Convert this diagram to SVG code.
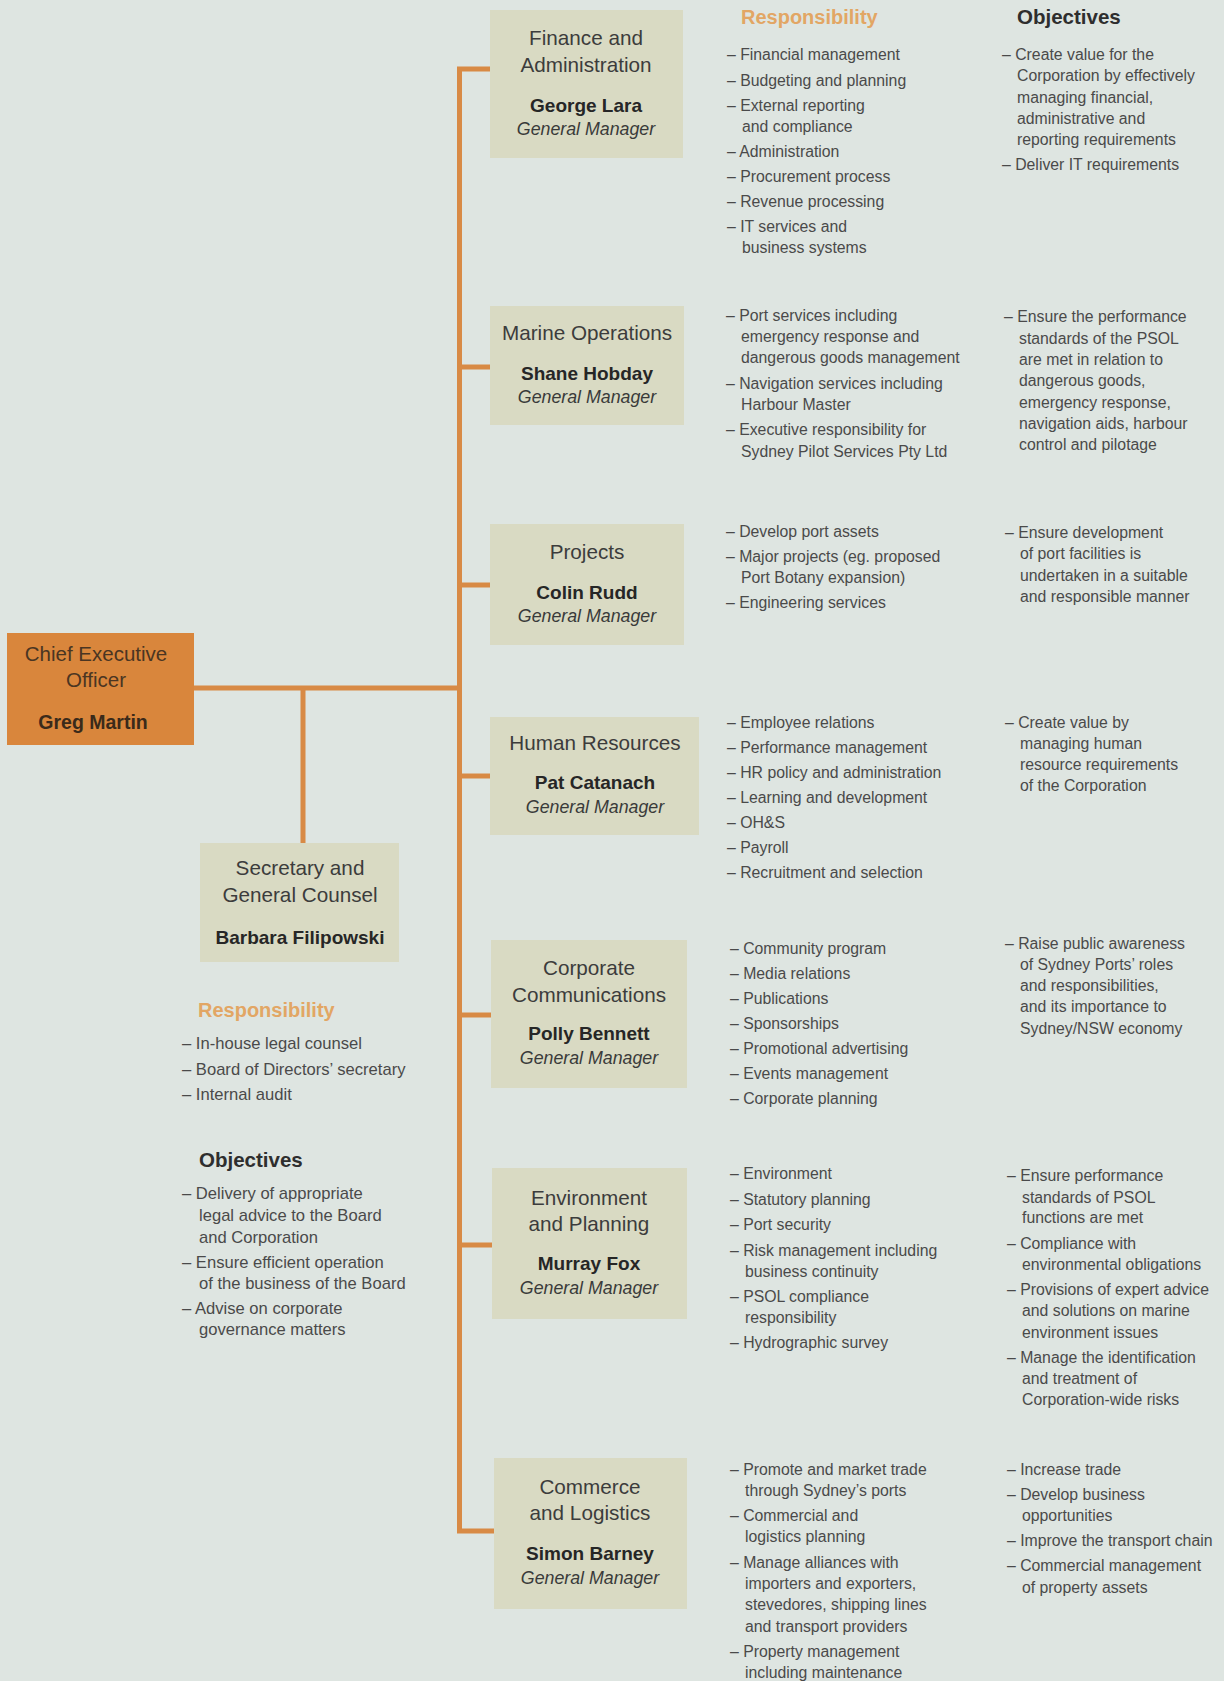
<svg xmlns="http://www.w3.org/2000/svg" width="1224" height="1681" viewBox="0 0 1224 1681">
<style>
.bg{fill:#dee5e1}
.box{fill:#d9dac3}
.ceo{fill:#d9863c}
.ln{stroke:#d88a45;stroke-width:5;fill:none;stroke-linecap:butt}
.t{font-family:"Liberation Sans",Arial,sans-serif;font-size:20.7px;fill:#3c3c3c;text-anchor:middle}
.n{font-family:"Liberation Sans",Arial,sans-serif;font-size:19px;font-weight:bold;fill:#262626;text-anchor:middle}
.g{font-family:"Liberation Sans",Arial,sans-serif;font-size:17.8px;font-style:italic;fill:#3a3a3a;text-anchor:middle}
.ct{font-family:"Liberation Sans",Arial,sans-serif;font-size:20.5px;fill:#4a3522;text-anchor:middle}
.cn{font-family:"Liberation Sans",Arial,sans-serif;font-size:19.5px;font-weight:bold;fill:#3a2a1a;text-anchor:middle}
.hr{font-family:"Liberation Sans",Arial,sans-serif;font-size:20px;font-weight:bold;fill:#e2a664}
.ho{font-family:"Liberation Sans",Arial,sans-serif;font-size:20.5px;font-weight:bold;fill:#2e2e2e}
.b{font-family:"Liberation Sans",Arial,sans-serif;font-size:15.8px;fill:#4a4a4a}
.bl{font-family:"Liberation Sans",Arial,sans-serif;font-size:16.6px;fill:#4a4a4a}
</style>
<rect class="bg" x="0" y="0" width="1224" height="1681"/>

<g id="connectors">
<line class="ln" x1="194" y1="688" x2="462" y2="688"/>
<line class="ln" x1="303" y1="688" x2="303" y2="843"/>
<polyline class="ln" points="490,69 459.5,69 459.5,1531 494,1531"/>
<line class="ln" x1="459.5" y1="367" x2="490" y2="367"/>
<line class="ln" x1="459.5" y1="585" x2="490" y2="585"/>
<line class="ln" x1="459.5" y1="776" x2="490" y2="776"/>
<line class="ln" x1="459.5" y1="1015" x2="491" y2="1015"/>
<line class="ln" x1="459.5" y1="1245" x2="492" y2="1245"/>
</g>

<g id="ceo">
<rect class="ceo" x="7" y="633" width="187" height="112"/>
<text class="ct" x="96" y="661">Chief Executive</text>
<text class="ct" x="96" y="687">Officer</text>
<text class="cn" x="93" y="729">Greg Martin</text>
</g>

<g id="secretary">
<rect class="box" x="200" y="843" width="199" height="119"/>
<text class="t" x="300" y="875">Secretary and</text>
<text class="t" x="300" y="902">General Counsel</text>
<text class="n" x="300" y="944">Barbara Filipowski</text>
</g>

<g id="secretary-details">
<text class="hr" x="198" y="1017">Responsibility</text>
<text class="bl" x="182" y="1049">– In-house legal counsel</text>
<text class="bl" x="182" y="1075">– Board of Directors’ secretary</text>
<text class="bl" x="182" y="1100">– Internal audit</text>
<text class="ho" x="199" y="1167">Objectives</text>
<text class="bl" x="182" y="1199">– Delivery of appropriate</text>
<text class="bl" x="199" y="1221">legal advice to the Board</text>
<text class="bl" x="199" y="1243">and Corporation</text>
<text class="bl" x="182" y="1268">– Ensure efficient operation</text>
<text class="bl" x="199" y="1289">of the business of the Board</text>
<text class="bl" x="182" y="1314">– Advise on corporate</text>
<text class="bl" x="199" y="1335">governance matters</text>
</g>

<g id="headers">
<text class="hr" x="741" y="24">Responsibility</text>
<text class="ho" x="1017" y="24">Objectives</text>
</g>

<g id="finance">
<rect class="box" x="490" y="10" width="193" height="148"/>
<text class="t" x="586" y="45">Finance and</text>
<text class="t" x="586" y="72">Administration</text>
<text class="n" x="586" y="112">George Lara</text>
<text class="g" x="586" y="135">General Manager</text>
</g>
<g id="finance-details">
<text class="b" x="727" y="60">– Financial management</text>
<text class="b" x="727" y="86">– Budgeting and planning</text>
<text class="b" x="727" y="111">– External reporting</text>
<text class="b" x="742" y="132">and compliance</text>
<text class="b" x="727" y="157">– Administration</text>
<text class="b" x="727" y="182">– Procurement process</text>
<text class="b" x="727" y="207">– Revenue processing</text>
<text class="b" x="727" y="232">– IT services and</text>
<text class="b" x="742" y="253">business systems</text>
<text class="b" x="1002" y="60">– Create value for the</text>
<text class="b" x="1017" y="81">Corporation by effectively</text>
<text class="b" x="1017" y="103">managing financial,</text>
<text class="b" x="1017" y="124">administrative and</text>
<text class="b" x="1017" y="145">reporting requirements</text>
<text class="b" x="1002" y="170">– Deliver IT requirements</text>
</g>

<g id="marine">
<rect class="box" x="490" y="306" width="194" height="119"/>
<text class="t" x="587" y="340">Marine Operations</text>
<text class="n" x="587" y="380">Shane Hobday</text>
<text class="g" x="587" y="403">General Manager</text>
</g>
<g id="marine-details">
<text class="b" x="726" y="321">– Port services including</text>
<text class="b" x="741" y="342">emergency response and</text>
<text class="b" x="741" y="363">dangerous goods management</text>
<text class="b" x="726" y="389">– Navigation services including</text>
<text class="b" x="741" y="410">Harbour Master</text>
<text class="b" x="726" y="435">– Executive responsibility for</text>
<text class="b" x="741" y="457">Sydney Pilot Services Pty Ltd</text>
<text class="b" x="1004" y="322">– Ensure the performance</text>
<text class="b" x="1019" y="344">standards of the PSOL</text>
<text class="b" x="1019" y="365">are met in relation to</text>
<text class="b" x="1019" y="386">dangerous goods,</text>
<text class="b" x="1019" y="408">emergency response,</text>
<text class="b" x="1019" y="429">navigation aids, harbour</text>
<text class="b" x="1019" y="450">control and pilotage</text>
</g>

<g id="projects">
<rect class="box" x="490" y="524" width="194" height="121"/>
<text class="t" x="587" y="559">Projects</text>
<text class="n" x="587" y="599">Colin Rudd</text>
<text class="g" x="587" y="622">General Manager</text>
</g>
<g id="projects-details">
<text class="b" x="726" y="537">– Develop port assets</text>
<text class="b" x="726" y="562">– Major projects (eg. proposed</text>
<text class="b" x="741" y="583">Port Botany expansion)</text>
<text class="b" x="726" y="608">– Engineering services</text>
<text class="b" x="1005" y="538">– Ensure development</text>
<text class="b" x="1020" y="559">of port facilities is</text>
<text class="b" x="1020" y="581">undertaken in a suitable</text>
<text class="b" x="1020" y="602">and responsible manner</text>
</g>

<g id="hr">
<rect class="box" x="490" y="717" width="209" height="118"/>
<text class="t" x="595" y="750">Human Resources</text>
<text class="n" x="595" y="789">Pat Catanach</text>
<text class="g" x="595" y="813">General Manager</text>
</g>
<g id="hr-details">
<text class="b" x="727" y="728">– Employee relations</text>
<text class="b" x="727" y="753">– Performance management</text>
<text class="b" x="727" y="778">– HR policy and administration</text>
<text class="b" x="727" y="803">– Learning and development</text>
<text class="b" x="727" y="828">– OH&amp;S</text>
<text class="b" x="727" y="853">– Payroll</text>
<text class="b" x="727" y="878">– Recruitment and selection</text>
<text class="b" x="1005" y="728">– Create value by</text>
<text class="b" x="1020" y="749">managing human</text>
<text class="b" x="1020" y="770">resource requirements</text>
<text class="b" x="1020" y="791">of the Corporation</text>
</g>

<g id="corpcomm">
<rect class="box" x="491" y="940" width="196" height="148"/>
<text class="t" x="589" y="975">Corporate</text>
<text class="t" x="589" y="1002">Communications</text>
<text class="n" x="589" y="1040">Polly Bennett</text>
<text class="g" x="589" y="1064">General Manager</text>
</g>
<g id="corpcomm-details">
<text class="b" x="730" y="954">– Community program</text>
<text class="b" x="730" y="979">– Media relations</text>
<text class="b" x="730" y="1004">– Publications</text>
<text class="b" x="730" y="1029">– Sponsorships</text>
<text class="b" x="730" y="1054">– Promotional advertising</text>
<text class="b" x="730" y="1079">– Events management</text>
<text class="b" x="730" y="1104">– Corporate planning</text>
<text class="b" x="1005" y="949">– Raise public awareness</text>
<text class="b" x="1020" y="970">of Sydney Ports’ roles</text>
<text class="b" x="1020" y="991">and responsibilities,</text>
<text class="b" x="1020" y="1012">and its importance to</text>
<text class="b" x="1020" y="1034">Sydney/NSW economy</text>
</g>

<g id="environment">
<rect class="box" x="492" y="1168" width="195" height="151"/>
<text class="t" x="589" y="1205">Environment</text>
<text class="t" x="589" y="1231">and Planning</text>
<text class="n" x="589" y="1270">Murray Fox</text>
<text class="g" x="589" y="1294">General Manager</text>
</g>
<g id="environment-details">
<text class="b" x="730" y="1179">– Environment</text>
<text class="b" x="730" y="1205">– Statutory planning</text>
<text class="b" x="730" y="1230">– Port security</text>
<text class="b" x="730" y="1256">– Risk management including</text>
<text class="b" x="745" y="1277">business continuity</text>
<text class="b" x="730" y="1302">– PSOL compliance</text>
<text class="b" x="745" y="1323">responsibility</text>
<text class="b" x="730" y="1348">– Hydrographic survey</text>
<text class="b" x="1007" y="1181">– Ensure performance</text>
<text class="b" x="1022" y="1203">standards of PSOL</text>
<text class="b" x="1022" y="1223">functions are met</text>
<text class="b" x="1007" y="1249">– Compliance with</text>
<text class="b" x="1022" y="1270">environmental obligations</text>
<text class="b" x="1007" y="1295">– Provisions of expert advice</text>
<text class="b" x="1022" y="1316">and solutions on marine</text>
<text class="b" x="1022" y="1338">environment issues</text>
<text class="b" x="1007" y="1363">– Manage the identification</text>
<text class="b" x="1022" y="1384">and treatment of</text>
<text class="b" x="1022" y="1405">Corporation-wide risks</text>
</g>

<g id="commerce">
<rect class="box" x="494" y="1458" width="193" height="151"/>
<text class="t" x="590" y="1494">Commerce</text>
<text class="t" x="590" y="1520">and Logistics</text>
<text class="n" x="590" y="1560">Simon Barney</text>
<text class="g" x="590" y="1584">General Manager</text>
</g>
<g id="commerce-details">
<text class="b" x="730" y="1475">– Promote and market trade</text>
<text class="b" x="745" y="1496">through Sydney’s ports</text>
<text class="b" x="730" y="1521">– Commercial and</text>
<text class="b" x="745" y="1542">logistics planning</text>
<text class="b" x="730" y="1568">– Manage alliances with</text>
<text class="b" x="745" y="1589">importers and exporters,</text>
<text class="b" x="745" y="1610">stevedores, shipping lines</text>
<text class="b" x="745" y="1632">and transport providers</text>
<text class="b" x="730" y="1657">– Property management</text>
<text class="b" x="745" y="1678">including maintenance</text>
<text class="b" x="1007" y="1475">– Increase trade</text>
<text class="b" x="1007" y="1500">– Develop business</text>
<text class="b" x="1022" y="1521">opportunities</text>
<text class="b" x="1007" y="1546">– Improve the transport chain</text>
<text class="b" x="1007" y="1571">– Commercial management</text>
<text class="b" x="1022" y="1593">of property assets</text>
</g>
</svg>
